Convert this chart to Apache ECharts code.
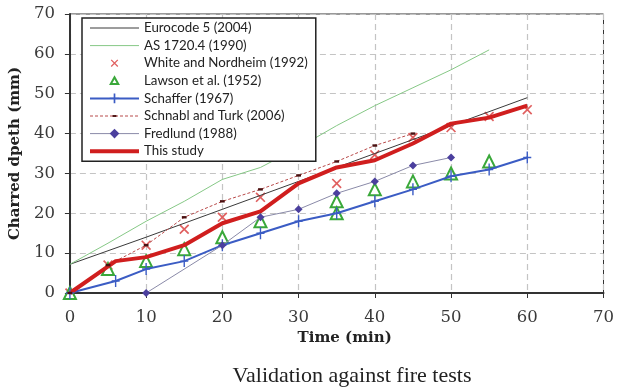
<!DOCTYPE html>
<html>
<head>
<meta charset="utf-8">
<script src="https://cdn.jsdelivr.net/npm/echarts@6/dist/echarts.min.js"></script>
<style>html,body{margin:0;padding:0;background:#fff;}#c{width:617px;height:391px;}</style>
</head>
<body>
<div id="c"></div>
<script>
// ---- data ----
const xTicks = [0, 10, 20, 30, 40, 50, 60, 70];
const yTicks = [0, 10, 20, 30, 40, 50, 60, 70];

const eurocodeT = [0, 10, 20, 30, 40, 50, 60];
const eurocodeD = [7.2, 14, 21, 28, 35, 42, 49];

const asT = [0, 5, 10, 15, 20, 25, 30, 35, 40, 45, 50, 55];
const asD = [7.2, 12.5, 18, 23, 28.5, 31.5, 36.5, 42, 47, 51.5, 56, 61];

const whiteT = [0, 5, 10, 15, 20, 25, 35, 40, 45, 50, 55, 60];
const whiteD = [0, 7, 12, 16, 19, 24, 27.5, 34.7, 39, 41.5, 44.3, 46];

const lawsonT = [0, 5, 10, 15, 20, 25, 35, 35, 40, 45, 50, 55];
const lawsonD = [0, 6, 8, 11, 14, 18, 23, 20, 26, 28, 30, 33];

const schafferT = [0, 6, 10, 15, 20, 25, 30, 35, 40, 45, 50, 55, 60];
const schafferD = [0, 3, 6, 8, 12, 15, 18, 20, 23, 26, 29.3, 31, 34];

const schnablT = [0, 5, 10, 15, 20, 25, 30, 35, 40, 45];
const schnablD = [0, 7, 12, 19, 23, 26, 29.5, 33, 37, 40];

const fredlundT = [10, 20, 25, 30, 35, 40, 45, 50];
const fredlundD = [0, 12, 19, 21, 25, 28, 32, 34];

const studyT = [0, 6, 10, 15, 20, 25, 30, 35, 40, 45, 50, 55, 60];
const studyD = [0, 8, 9, 12, 17.5, 20.5, 27.5, 31.5, 33.3, 37.5, 42.5, 44, 47];

const names = ['Eurocode 5 (2004)', 'AS 1720.4 (1990)', 'White and Nordheim (1992)', 'Lawson et al. (1952)',
  'Schaffer (1967)', 'Schnabl and Turk (2006)', 'Fredlund (1988)', 'This study'];

const pairs = (t, d) => t.map((v, i) => [v, d[i]]);

const xMark = 'path://M0,1.2L1.2,0L10,8.8L8.8,10ZM8.8,0L10,1.2L1.2,10L0,8.8Z';
const xMarkLegend = 'path://M0,0M16,16M3,4.2L4.2,3L13,11.8L11.8,13ZM11.8,3L13,4.2L4.2,13L3,11.8Z';
const triLegend = 'path://M0,0M24,24M12,5L19.5,18.5H4.5Z';
const plusMark = 'path://M4.3,0H5.7V10H4.3ZM1,4.4H9V5.6H1Z';
const dashMark = 'path://M0,0M10,10M3,4H7V6H3Z';

const chart = echarts.init(document.getElementById('c'), null, {renderer: 'canvas'});
const axisLabelFont = {fontFamily: 'DejaVu Serif', fontSize: 16.5, color: '#3a3a3a'};
const nameFont = {fontFamily: 'DejaVu Serif', fontWeight: 'bold', fontSize: 15, color: '#222'};
const gridLine = {show: true, lineStyle: {color: '#c4c4c4', width: 1.2, type: [6, 4]}};

chart.setOption({
  backgroundColor: '#fff',
  animation: false,
  grid: {left: 69, right: 11, top: 14, bottom: 98, show: true, borderColor: '#333', borderWidth: 1},
  xAxis: {
    type: 'value', min: xTicks[0], max: xTicks[xTicks.length - 1], interval: 10,
    name: 'Time (min)', nameLocation: 'middle', nameGap: 36,
    nameTextStyle: Object.assign({padding: [0, 0, 0, 16]}, nameFont),
    axisLine: {lineStyle: {color: '#333', width: 2}},
    axisTick: {show: true, length: 5, lineStyle: {color: '#333'}},
    axisLabel: Object.assign({margin: 16}, axisLabelFont),
    splitLine: gridLine
  },
  yAxis: {
    type: 'value', min: yTicks[0], max: yTicks[yTicks.length - 1], interval: 10,
    name: 'Charred dpeth (mm)', nameLocation: 'middle', nameGap: 40,
    nameTextStyle: nameFont,
    axisLine: {show: true, lineStyle: {color: '#333', width: 2}},
    axisTick: {show: true, length: 5, lineStyle: {color: '#333'}},
    axisLabel: Object.assign({margin: 15}, axisLabelFont),
    splitLine: gridLine
  },
  legend: {
    data: [
      {name: names[0], itemStyle: {opacity: 0}},
      {name: names[1], itemStyle: {opacity: 0}},
      {name: names[2], icon: xMarkLegend},
      {name: names[3], icon: triLegend},
      {name: names[4]},
      {name: names[5]},
      {name: names[6]},
      {name: names[7], itemStyle: {opacity: 0}}
    ],
    orient: 'vertical', left: 82, top: 18,
    backgroundColor: '#fff', borderColor: '#222', borderWidth: 1.5,
    padding: [3, 8, 3, 6], itemWidth: 49, itemHeight: 12, itemGap: 3.6,
    lineStyle: {width: 'inherit'},
    textStyle: {fontFamily: 'Lato', fontSize: 13.3, color: '#222', lineHeight: 14}
  },
  graphic: [{
    type: 'text', x: 352, y: 376,
    style: {text: 'Validation against fire tests', font: '22px "Liberation Serif"', fill: '#222',
      textAlign: 'center', textVerticalAlign: 'middle'}
  }],
  series: [
    {name: names[0], type: 'line', data: pairs(eurocodeT, eurocodeD), symbol: 'none',
      lineStyle: {color: '#3a3a3a', width: 1}, itemStyle: {color: '#3a3a3a'}},
    {name: names[1], type: 'line', data: pairs(asT, asD), symbol: 'none',
      lineStyle: {color: '#86c886', width: 1}, itemStyle: {color: '#86c886'}},
    {name: names[4], type: 'line', data: pairs(schafferT, schafferD), symbol: plusMark, symbolSize: [8, 12],
      lineStyle: {color: '#3b5cc4', width: 2}, itemStyle: {color: '#3b5cc4'}},
    {name: names[5], type: 'line', data: pairs(schnablT, schnablD), symbol: dashMark, symbolSize: 12,
      lineStyle: {color: '#b84a4a', width: 1, type: [3, 2]}, itemStyle: {color: '#4a1010'}},
    {name: names[6], type: 'line', data: pairs(fredlundT, fredlundD), symbol: 'diamond', symbolSize: 8,
      lineStyle: {color: '#8a8aa8', width: 1}, itemStyle: {color: '#4b3f9e'}},
    {name: names[2], type: 'scatter', data: pairs(whiteT, whiteD), symbol: xMark, symbolSize: 10,
      itemStyle: {color: '#e06060', opacity: 1}},
    {name: names[3], type: 'scatter', data: pairs(lawsonT, lawsonD), symbol: 'triangle', symbolSize: 12,
      itemStyle: {color: '#fff', borderColor: '#3aa83a', borderWidth: 2, opacity: 1}},
    {name: names[7], type: 'line', data: pairs(studyT, studyD), symbol: 'none',
      lineStyle: {color: '#d01e1e', width: 4}, itemStyle: {color: '#d01e1e'}}
  ]
});
</script>
</body>
</html>
